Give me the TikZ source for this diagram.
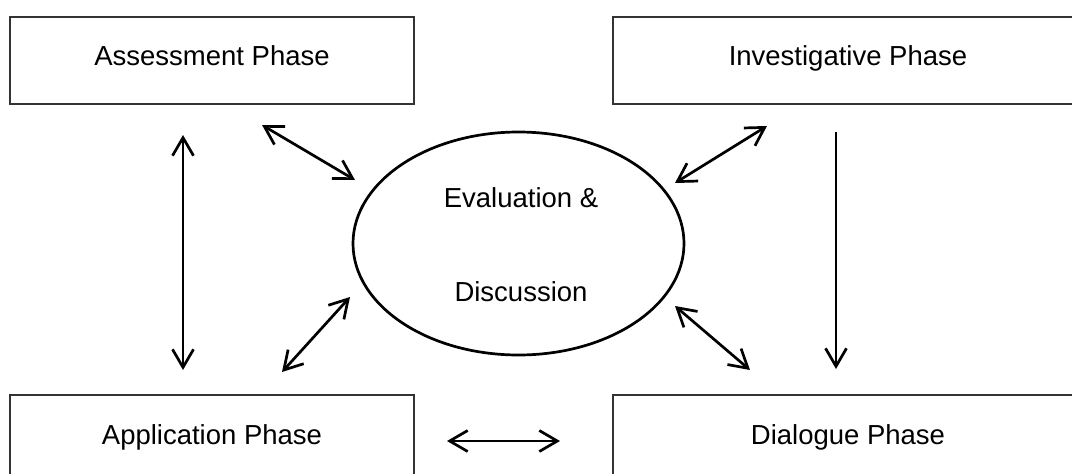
\documentclass[tikz,border=0pt]{standalone}
\usepackage{fontspec}
\setmainfont{Liberation Sans}
\usetikzlibrary{arrows.meta,shapes.geometric}

\tikzset{
  barb/.tip={Straight Barb[length=18pt,width=21pt,line width=2.7pt]},
  phase/.style={draw=black!80, line width=1.5pt, rectangle, anchor=center,
    font=\fontsize{27.5}{33}\selectfont, text height=19.5pt},
  hub/.style={draw=black, line width=2.7pt, ellipse, inner sep=0pt},
  hubtext/.style={font=\fontsize{27.5}{33}\selectfont, inner sep=0pt},
  link/.style={line width=2.7pt, draw=black, arrows={barb-barb}},
  flow/.style={line width=2.7pt, draw=black, arrows={-barb}}
}

\begin{document}
\begin{tikzpicture}[x=1pt, y=-1pt]
  \useasboundingbox (0,0) rectangle (1072,474);
  \clip (0,0) rectangle (1072,474);

  % the four phases
  \node[phase, minimum width=404pt, minimum height=87pt, text depth=9pt]
    (assess) at (212,60.5) {Assessment Phase};
  \node[phase, minimum width=470pt, minimum height=87pt, text depth=9pt]
    (invest) at (848,60.5) {Investigative Phase};
  \node[phase, minimum width=404pt, minimum height=87pt, text depth=7pt]
    (apply) at (212,438.5) {Application Phase};
  \node[phase, minimum width=470pt, minimum height=87pt, text depth=7pt]
    (dialog) at (848,438.5) {Dialogue Phase};

  % central evaluation step
  \node[hub, minimum width=331pt, minimum height=223pt] (hub) at (518.5,243.5) {};
  \node[hubtext] (hubA) at (521,198) {Evaluation \&};
  \node[hubtext] (hubB) at (521,292) {Discussion};

  % arrow end points
  \coordinate (lvTop) at (183,135);
  \coordinate (lvBot) at (183,370);
  \coordinate (ulOut) at (262,125);
  \coordinate (ulIn)  at (355,180);
  \coordinate (llIn)  at (350,297);
  \coordinate (llOut) at (282,372);
  \coordinate (urOut) at (767,126);
  \coordinate (urIn)  at (675,183);
  \coordinate (lrIn)  at (675,306);
  \coordinate (lrOut) at (750,370);
  \coordinate (rvTop) at (836,132);
  \coordinate (rvBot) at (836,369);
  \coordinate (hzL)   at (447,441);
  \coordinate (hzR)   at (560,441);

  % connectors
  \draw[link] (lvTop) -- (lvBot);
  \draw[link] (ulOut) -- (ulIn);
  \draw[link] (llIn) -- (llOut);
  \draw[link] (urOut) -- (urIn);
  \draw[link] (lrIn) -- (lrOut);
  \draw[flow] (rvTop) -- (rvBot);
  \draw[link] (hzL) -- (hzR);
\end{tikzpicture}
\end{document}
